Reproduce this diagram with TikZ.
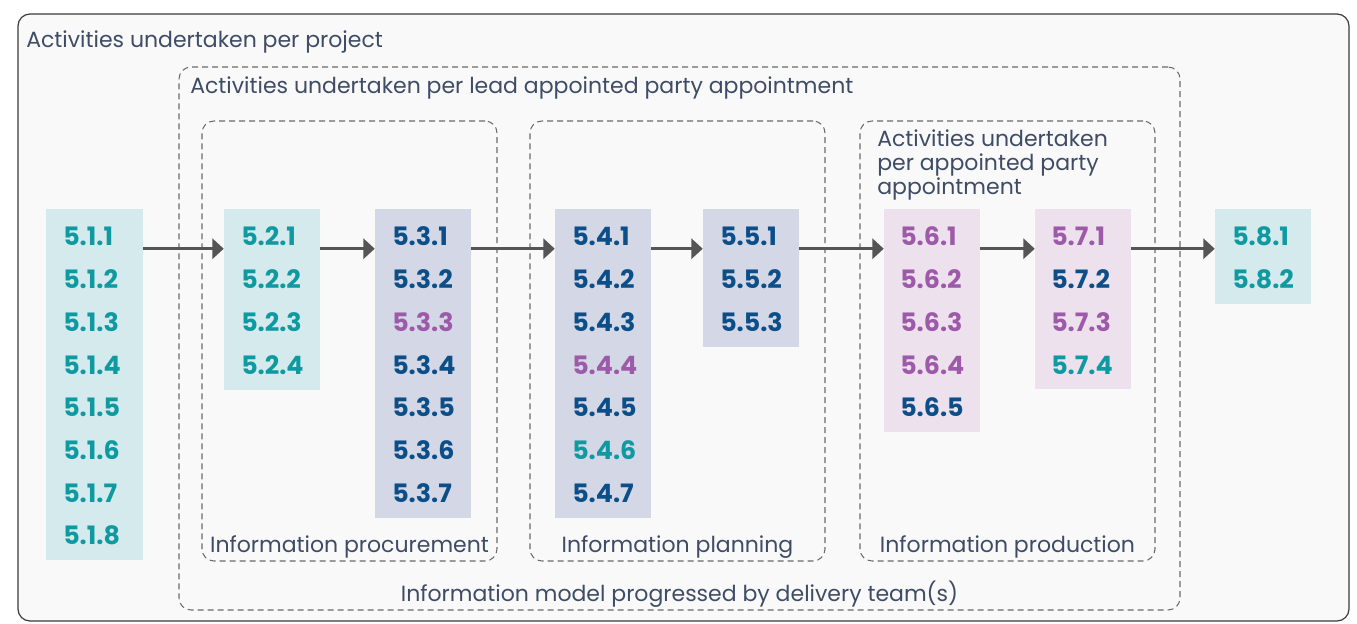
\documentclass[tikz,border=0pt]{standalone}
\usepackage{fontspec}
\setmainfont{Poppins}
\usetikzlibrary{arrows.meta,fit}
\definecolor{bg}{HTML}{F9F9F9}
\definecolor{outer}{HTML}{3A3A3A}
\definecolor{dash}{HTML}{6B6B6B}
\definecolor{arrc}{HTML}{555555}
\definecolor{labc}{HTML}{3F4C65}
\definecolor{tl}{HTML}{0E9AA0}
\definecolor{nv}{HTML}{0C4E87}
\definecolor{pu}{HTML}{9D5AA8}
\definecolor{fT}{HTML}{D5EAED}
\definecolor{fL}{HTML}{D4D7E6}
\definecolor{fP}{HTML}{EDE1EE}
\begin{document}
\begin{tikzpicture}[x=0.75pt,y=-0.75pt,
  lab/.style={inner sep=0pt, text=labc, font=\fontsize{16.5}{20}\selectfont},
  num/.style={inner sep=0pt, anchor=base west, font=\fontsize{19}{22}\selectfont\bfseries},
  grp/.style={draw=dash, line width=0.8pt, dash pattern=on 4.5pt off 3pt, rounded corners=9pt, inner sep=0pt},
  colbox/.style={inner sep=0pt, draw=none},
  arr/.style={draw=arrc, line width=2.2pt, -{Triangle[length=8.5pt,width=15pt]}}]
\useasboundingbox (0,0) rectangle (1357,624);
\draw[fill=bg, draw=outer, line width=0.9pt, rounded corners=9pt] (18,14) rectangle (1349,621);
% groups
\node[grp, fit={(179,67)(1180,610)}] (lead) {};
\node[grp, fit={(202,121)(497,561)}] (proc) {};
\node[grp, fit={(530,121)(825,561)}] (plan) {};
\node[grp, fit={(860,121)(1155,561)}] (prod) {};
% coloured boxes
\foreach \p/\xa/\xb/\yb/\f in {1/46/143/560/fT, 2/224/320/390/fT, 3/375/471/518/fL, 4/555/651/518/fL, 5/703/799/347/fL, 6/884/980/432/fP, 7/1035/1131/389/fP, 8/1215/1311/304/fT}
  \node[colbox, fill=\f, fit={(\xa,209)(\xb,\yb)}] (b\p) {};
% items
\foreach \p/\x/\cols in {1/63/{tl,tl,tl,tl,tl,tl,tl,tl}, 2/241/{tl,tl,tl,tl}, 3/392/{nv,nv,pu,nv,nv,nv,nv}, 4/572/{nv,nv,nv,pu,nv,tl,nv}, 5/720/{nv,nv,nv}, 6/900/{pu,pu,pu,pu,nv}, 7/1051/{pu,nv,pu,tl}, 8/1232/{tl,tl}}
  \foreach \c [count=\i] in \cols
    \node[num, text=\c] (n\p-\i) at (\x,{246+42.7*(\i-1)}) {5.\p.\i};
% arrows
\foreach \a/\b in {1/2,2/3,3/4,4/5,5/6,6/7,7/8}
  \draw[arr] ([yshift=-30pt]b\a.north east) -- ([yshift=-30pt]b\b.north west);
% labels
\node[lab, anchor=base west] (tproj) at (26,48) {Activities undertaken per project};
\node[lab, anchor=base west] (tlead) at (190,94) {Activities undertaken per lead appointed party appointment};
\node[lab, anchor=base west] (tapp1) at (877,147) {Activities undertaken};
\node[lab, anchor=base west] (tapp2) at (877,171) {per appointed party};
\node[lab, anchor=base west] (tapp3) at (877,195) {appointment};
\node[lab, anchor=base] (lproc) at (349.5,552) {Information procurement};
\node[lab, anchor=base] (lplan) at (677.5,552) {Information planning};
\node[lab, anchor=base] (lprod) at (1007.5,552) {Information production};
\node[lab, anchor=base] (lmodel) at (679.5,601) {Information model progressed by delivery team(s)};
\end{tikzpicture}
\end{document}
